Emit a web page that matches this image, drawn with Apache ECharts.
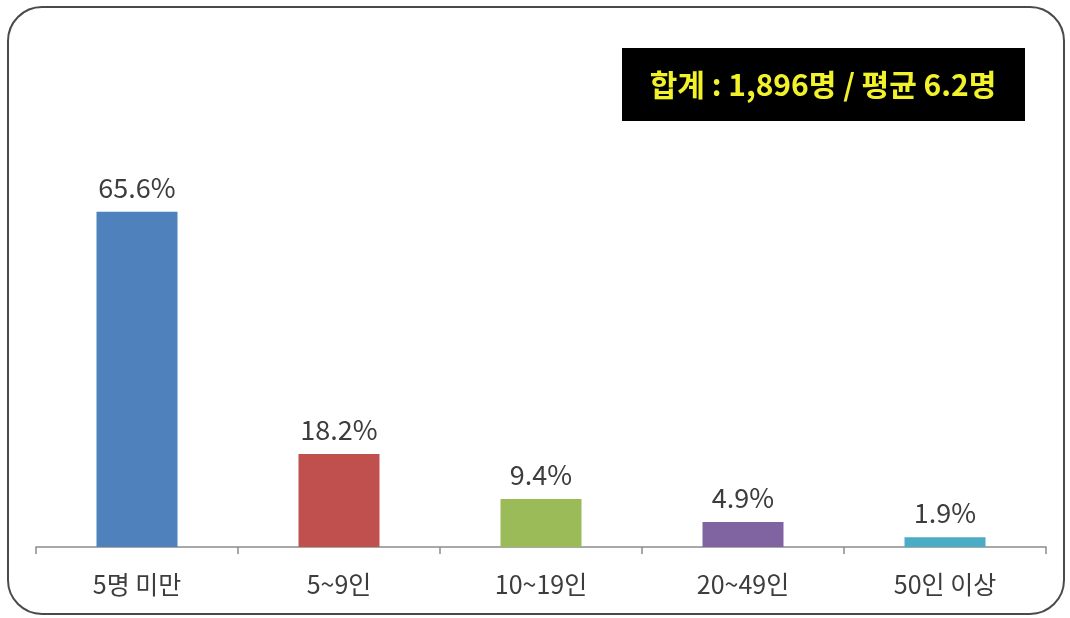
<!DOCTYPE html>
<html>
<head>
<meta charset="utf-8">
<script src="https://cdn.jsdelivr.net/npm/echarts@6/dist/echarts.min.js"></script>
<style>
  html, body { margin: 0; padding: 0; background: #fff; }
  #chart { width: 1070px; height: 618px; }
</style>
</head>
<body>
<div id="chart"></div>
<script>
// Workplace size distribution (share of respondents, %)
const categories = ['5명 미만', '5~9인', '10~19인', '20~49인', '50인 이상'];
const shares = [65.6, 18.2, 9.4, 4.9, 1.9];
const barColors = ['#4f81bd', '#c0504d', '#9bbb59', '#8064a2', '#4bacc6'];
const summaryText = '합계 : 1,896명 / 평균 6.2명';

const FONT = '"Noto Sans CJK KR", "Noto Sans", sans-serif';

const chart = echarts.init(document.getElementById('chart'));
chart.setOption({
  animation: false,
  backgroundColor: '#fff',
  grid: { left: 36, right: 24, top: 36, bottom: 71 },
  xAxis: {
    type: 'category',
    data: categories,
    axisLine: { lineStyle: { color: '#8c8c8c', width: 1.5 } },
    axisTick: { show: true, length: 7, lineStyle: { color: '#8c8c8c', width: 1.5 } },
    axisLabel: { color: '#3d3d3d', fontSize: 25, fontFamily: FONT, margin: 25 }
  },
  yAxis: {
    type: 'value',
    min: 0,
    max: 100,
    show: false,
    splitLine: { show: false }
  },
  series: [{
    type: 'bar',
    barWidth: 81,
    data: shares.map((v, i) => ({ value: v, itemStyle: { color: barColors[i] } })),
    label: {
      show: true,
      position: 'top',
      distance: 11,
      color: '#3d3d3d',
      fontSize: 27,
      fontFamily: FONT,
      formatter: p => p.value.toFixed(1) + '%'
    }
  }],
  graphic: [
    {
      type: 'rect',
      shape: { x: 8, y: 7, width: 1056, height: 607, r: 34 },
      style: { fill: 'none', stroke: '#4a4a4a', lineWidth: 2 },
      silent: true,
      z: 10
    },
    {
      type: 'group',
      left: 622,
      top: 48,
      children: [
        {
          type: 'rect',
          shape: { x: 0, y: 0, width: 403, height: 73 },
          style: { fill: '#000' }
        },
        {
          type: 'text',
          x: 201,
          y: 37,
          style: {
            text: summaryText,
            fill: '#f2f22a',
            font: 'bold 30px ' + FONT,
            align: 'center',
            verticalAlign: 'middle'
          }
        }
      ]
    }
  ]
});
</script>
</body>
</html>
